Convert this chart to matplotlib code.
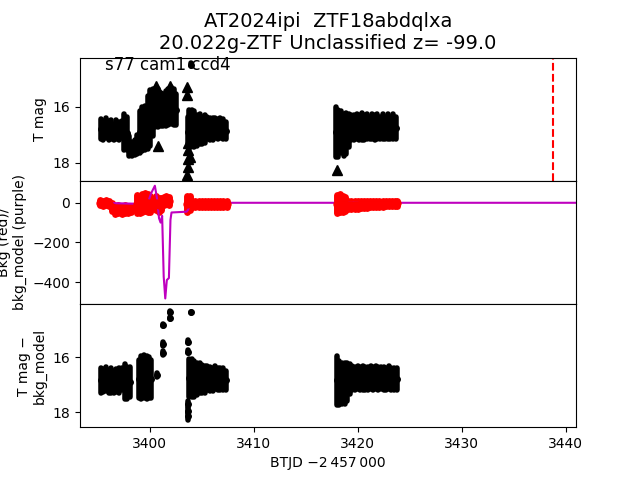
import matplotlib
matplotlib.use("Agg")
import matplotlib.pyplot as plt

title_text = "AT2024ipi  ZTF18abdqlxa\n20.022g-ZTF Unclassified z= -99.0"
sector_text = "s77 cam1 ccd4"
t_peak_line = 3438.75

# T mag detections (BTJD - 2457000, mag, err)
top_t = [3395.3, 3395.55, 3395.8, 3396.05, 3396.3, 3396.55, 3396.8, 3397.05, 3397.3,
         3397.55, 3397.8, 3398.05, 3398.3, 3398.55, 3398.8, 3399.05, 3399.3, 3399.55,
         3399.8, 3400.05, 3400.3, 3400.55, 3400.8, 3401.05, 3401.3, 3401.55, 3401.8,
         3402.05, 3402.3, 3402.55,
         3403.65, 3403.8, 3404.05, 3404.3, 3404.55, 3404.8, 3405.05, 3405.3, 3405.55,
         3405.8, 3406.05, 3406.3, 3406.55, 3406.8, 3407.05, 3407.3, 3404.0,
         3417.9, 3418.15, 3418.4, 3418.65, 3418.9, 3419.15, 3419.4, 3419.65, 3419.9,
         3420.15, 3420.4, 3420.65, 3420.9, 3421.15, 3421.4, 3421.65, 3421.9, 3422.15,
         3422.4, 3422.65, 3422.9, 3423.15, 3423.4, 3423.7]
top_mag = [16.80, 16.85, 16.75, 16.85, 16.80, 16.90, 16.80, 16.85, 16.80,
           16.90, 16.95, 17.40, 17.50, 17.45, 17.35, 16.90, 16.80, 16.75,
           16.55, 16.40, 16.20, 16.05, 16.05, 16.10, 16.10, 16.05, 16.00,
           15.95, 16.00, 16.10,
           16.90, 16.80, 16.75, 16.80, 16.85, 16.80, 16.85, 16.80, 16.75,
           16.80, 16.80, 16.75, 16.80, 16.75, 16.80, 16.85, 14.50,
           16.90, 16.95, 16.90, 17.00, 16.95, 16.85, 16.75, 16.75, 16.70,
           16.75, 16.70, 16.75, 16.70, 16.75, 16.70, 16.75, 16.70, 16.75,
           16.70, 16.75, 16.70, 16.75, 16.70, 16.75]
top_err = [0.36, 0.34, 0.36, 0.34, 0.34, 0.30, 0.34, 0.32, 0.30,
           0.64, 0.60, 0.34, 0.25, 0.27, 0.34, 0.74, 0.79, 0.79,
           0.94, 0.99, 0.84, 0.69, 0.69, 0.59, 0.57, 0.62, 0.64,
           0.66, 0.64, 0.54,
           0.54, 0.69, 0.64, 0.64, 0.54, 0.54, 0.49, 0.49, 0.40,
           0.40, 0.40, 0.35, 0.35, 0.35, 0.35, 0.30, 0.04,
           0.89, 0.84, 0.74, 0.74, 0.74, 0.59, 0.44, 0.44, 0.44,
           0.44, 0.49, 0.44, 0.44, 0.40, 0.44, 0.44, 0.44, 0.40,
           0.44, 0.40, 0.44, 0.40, 0.44, 0.40]

# T mag limits (triangles)
lim_t = [3400.6, 3402.0, 3400.8, 3403.6, 3403.6, 3403.65, 3403.65, 3403.7,
         3403.6, 3403.7, 3403.9, 3418.0]
lim_mag = [15.25, 15.25, 17.40, 15.30, 15.60, 17.55, 17.85, 18.15,
           18.45, 17.30, 17.80, 18.25]

# background flux (red) and background model (purple)
bkg_t = [3395.2, 3395.5, 3395.8, 3396.1, 3396.4, 3396.7, 3397.0, 3397.3, 3397.6,
         3397.9, 3398.2, 3398.8, 3399.05, 3399.3, 3399.55, 3399.8, 3400.05,
         3400.6, 3400.85, 3401.1, 3401.35, 3401.6, 3401.85,
         3403.6, 3403.85, 3404.1, 3404.4, 3404.7, 3405.0, 3405.3, 3405.6, 3405.9,
         3406.2, 3406.5, 3406.8, 3407.1, 3407.4,
         3418.05, 3418.3, 3418.55, 3418.8, 3419.1, 3419.4, 3419.7, 3420.0, 3420.3,
         3420.6, 3420.9, 3421.2, 3421.5, 3421.8, 3422.1, 3422.4, 3422.7, 3423.0,
         3423.3, 3423.6, 3423.8]
bkg_val = [0, -3, 0, -5, -20, -35, -30, -35, -30,
           -35, -30, -5, -10, 0, 5, 0, -5,
           0, -10, -5, 10, 15, 10,
           -5, 0, -5, -5, -5, -5, -5, -5, -5,
           -5, -5, -5, -5, -5,
           -5, 0, -5, -5, -10, -10, -10, -10, -8,
           -8, -8, -6, -6, -5, -5, -5, -4, -4,
           -4, -3, -3]
bkg_spread = [12, 12, 12, 12, 20, 20, 20, 20, 20,
              18, 16, 45, 40, 45, 45, 45, 40,
              35, 35, 30, 20, 20, 20,
              40, 35, 15, 15, 15, 15, 15, 15, 15,
              15, 15, 15, 15, 15,
              45, 45, 40, 35, 20, 20, 20, 20, 18,
              18, 18, 15, 15, 15, 15, 15, 14, 14,
              14, 14, 14]

model_t = [3395.2, 3398.8, 3399.8, 3400.15, 3400.5, 3400.7, 3400.9, 3401.05, 3401.2,
           3401.35, 3401.5, 3401.65, 3401.85, 3402.0, 3402.1, 3403.55, 3403.7,
           3403.85, 3441.0]
model_val = [0, -5, -3, 49, 86, 24, -78, -100, -66,
             -373, -483, -390, -380, -86, -49, -45, -35,
             0, 0]

# T mag - bkg_model
diff_t = [3395.3, 3395.55, 3395.8, 3396.05, 3396.3, 3396.55, 3396.8, 3397.05, 3397.3,
          3397.6, 3397.85, 3398.1,
          3398.95, 3399.2, 3399.45, 3399.7, 3399.95, 3400.15, 3400.7,
          3401.28, 3401.28, 3401.28, 3401.92, 3401.92, 3404.0, 3403.68, 3403.68,
          3403.65, 3403.65, 3403.65,
          3403.8, 3404.05, 3404.3, 3404.55, 3404.8, 3405.05, 3405.3, 3405.55,
          3405.8, 3406.05, 3406.3, 3406.55, 3406.8, 3407.05, 3407.35,
          3418.0, 3418.25, 3418.5, 3418.75, 3419.0, 3419.25, 3419.5, 3419.75,
          3420.0, 3420.25, 3420.5, 3420.75, 3421.0, 3421.25, 3421.5, 3421.75,
          3422.0, 3422.25, 3422.5, 3422.75, 3423.0, 3423.25, 3423.5, 3423.75]
diff_mag = [16.85, 16.85, 16.80, 16.90, 16.85, 16.90, 16.85, 16.85, 16.80,
            16.90, 16.95, 16.90,
            16.80, 16.75, 16.70, 16.75, 16.75, 16.80, 16.65,
            14.84, 15.52, 15.85, 14.37, 14.59, 14.37, 15.44, 15.80,
            17.70, 17.95, 18.15,
            16.75, 16.75, 16.80, 16.80, 16.75, 16.80, 16.80, 16.75,
            16.80, 16.80, 16.75, 16.80, 16.80, 16.80, 16.85,
            16.85, 16.95, 16.95, 16.95, 16.90, 16.80, 16.75, 16.78,
            16.75, 16.78, 16.75, 16.78, 16.78, 16.75, 16.78, 16.75,
            16.78, 16.75, 16.78, 16.78, 16.75, 16.78, 16.78, 16.80]
diff_err = [0.44, 0.42, 0.44, 0.42, 0.44, 0.39, 0.42, 0.44, 0.39,
            0.64, 0.59, 0.54,
            0.69, 0.79, 0.79, 0.79, 0.74, 0.69, 0.08,
            0.03, 0.06, 0.06, 0.03, 0.03, 0.02, 0.05, 0.06,
            0.10, 0.10, 0.15,
            0.69, 0.69, 0.64, 0.59, 0.54, 0.52, 0.49, 0.44,
            0.44, 0.42, 0.42, 0.39, 0.39, 0.39, 0.36,
            0.89, 0.79, 0.74, 0.74, 0.69, 0.54, 0.44, 0.42,
            0.42, 0.42, 0.44, 0.42, 0.42, 0.42, 0.42, 0.42,
            0.42, 0.40, 0.42, 0.40, 0.42, 0.40, 0.40, 0.39]

fig, axes = plt.subplots(3, 1, sharex=True, figsize=(6.4, 4.8), dpi=100)
fig.subplots_adjust(hspace=0)
ax_top, ax_bkg, ax_diff = axes

# top: light curve
eb = ax_top.errorbar(top_t, top_mag, yerr=top_err, fmt="o", color="k", ms=4,
                     elinewidth=4)
eb[2][0].set_capstyle("round")
ax_top.plot(lim_t, lim_mag, "^", color="k", ms=7)
ax_top.axvline(t_peak_line, color="r", ls="--", lw=1.5)
ax_top.set_ylim(18.64, 14.25)
ax_top.set_ylabel("T mag")
ax_top.text(0.05, 0.9, sector_text, transform=ax_top.transAxes, fontsize=12,
            va="baseline")
ax_top.set_title(title_text, fontsize=14)

# middle: background
eb = ax_bkg.errorbar(bkg_t, bkg_val, yerr=bkg_spread, fmt="o", color="r", ms=5,
                     elinewidth=5)
eb[2][0].set_capstyle("round")
ax_bkg.plot(model_t, model_val, "-", color="m", lw=1.5)
ax_bkg.set_ylim(-511, 111)
ax_bkg.set_ylabel("Bkg (red)/\nbkg_model (purple)")

# bottom: background-subtracted
eb = ax_diff.errorbar(diff_t, diff_mag, yerr=diff_err, fmt="o", color="k", ms=4,
                      elinewidth=4)
eb[2][0].set_capstyle("round")
ax_diff.set_ylim(18.55, 14.07)
ax_diff.set_ylabel("T mag \u2212\nbkg_model")

ax_diff.set_xlim(3393.3, 3441.0)
ax_diff.set_xlabel("BTJD \u22122\u2009457\u2009000")

fig.savefig("out.png", dpi=100)
